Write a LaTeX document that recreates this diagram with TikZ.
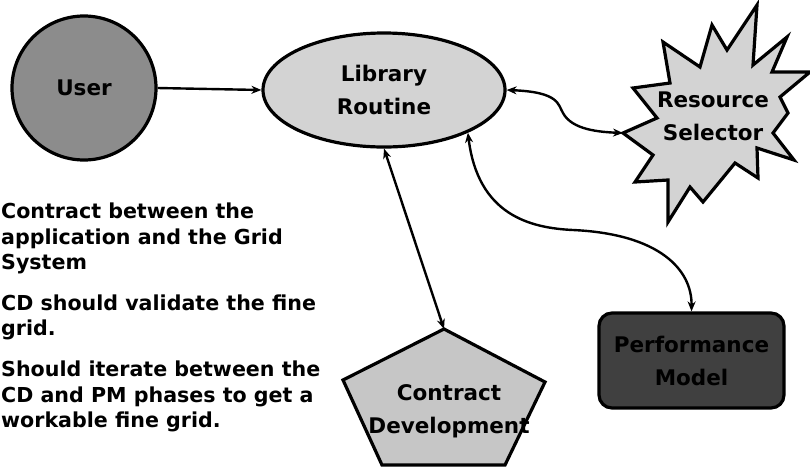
\documentclass[tikz,border=0pt]{standalone}
\usepackage{fontspec}
\setmainfont{DejaVu Sans}
\usetikzlibrary{arrows.meta,shapes.geometric}
\definecolor{usergray}{HTML}{8C8C8C}
\definecolor{lightfill}{HTML}{D3D3D3}
\definecolor{pentfill}{HTML}{C6C6C6}
\definecolor{darkfill}{HTML}{404040}
\tikzset{
  shapeline/.style={draw=black, line width=3.2pt},
  conn/.style={line width=2.4pt, {Stealth[length=10pt,width=8pt]}-{Stealth[length=10pt,width=8pt]}},
  conn1/.style={line width=2.4pt, -{Stealth[length=10pt,width=8pt]}},
  lbl/.style={font=\fontsize{21.5}{33}\selectfont\bfseries, align=center, inner sep=0pt},
  note/.style={font=\fontsize{20.6}{25.5}\selectfont\bfseries, align=left, inner sep=0pt, anchor=base west}
}
\begin{document}
\begin{tikzpicture}[x=1pt,y=-1pt]
\useasboundingbox (0,0) rectangle (810,467);
% User
\node[shapeline, fill=usergray, circle, minimum size=144pt, inner sep=0pt] (user) at (84,88) {};
\node[lbl] at (user.center) {User};
% Library Routine
\node[shapeline, fill=lightfill, ellipse, minimum width=242pt, minimum height=114pt, inner sep=0pt] (lib) at (384,90) {};
\node[lbl] at (lib.center) {Library\\Routine};
% Resource Selector (starburst)
\filldraw[shapeline, fill=lightfill, line join=miter]
  (757,5) -- (753,65) -- (787,37) -- (772,72) -- (810,72) -- (780,97)
  -- (788,113) -- (773,133) -- (794,160) -- (757,148) -- (758,178)
  -- (735,163) -- (703,202) -- (690,187) -- (668,222) -- (668,180)
  -- (635,182) -- (653,155) -- (623,133) -- (657,118) -- (633,88)
  -- (670,83) -- (663,42) -- (700,67) -- (712,25) -- (727,50) -- cycle;
\coordinate (rstip) at (623,133);
\node[lbl] (rs) at (713,116) {Resource\\Selector};
% Contract Development (pentagon)
\filldraw[shapeline, fill=pentfill, line join=miter]
  (444,329) -- (545,382) -- (505,465) -- (382,465) -- (343,380) -- cycle;
\coordinate (cdtop) at (444,329);
\node[lbl] (cd) at (449,411) {Contract\\Development};
% Performance Model
\node[shapeline, fill=darkfill, rectangle, rounded corners=13pt, minimum width=185pt, minimum height=95pt, inner sep=0pt] (pm) at (691.5,360.5) {};
\node[lbl] at (pm.center) {Performance\\Model};
% Connectors
\draw[conn1] (user.east) -- (lib.west);
\draw[conn] (lib.east) .. controls (560,92) and (558,105) .. (563,113) .. controls (572,130) and (600,132) .. (rstip);
\draw[conn] (lib.south) -- (cdtop);
\draw[conn] (lib.-27) .. controls (478,215) and (530,228) .. (573,230) .. controls (660,234) and (692,270) .. (pm.north);
% Notes
\node[note] (n1) at (1,269.5) {Contract between the\\application and the Grid\\System};
\node[note] (n2) at (1,335.5) {CD should validate the fine\\grid.};
\node[note] (n3) at (1,427.5) {Should iterate between the\\CD and PM phases to get a\\workable fine grid.};
\end{tikzpicture}
\end{document}
